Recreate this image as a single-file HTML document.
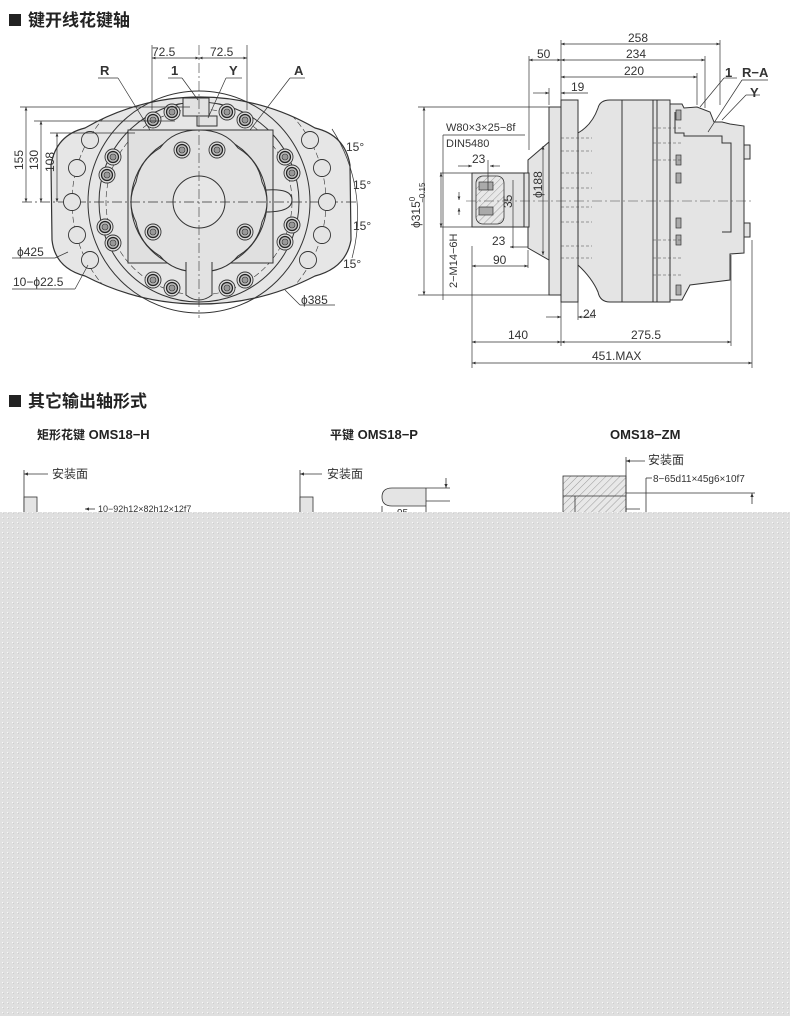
<!DOCTYPE html>
<html><head><meta charset="utf-8"><style>
html,body{margin:0;padding:0;background:#fff;}
body{width:790px;height:1016px;overflow:hidden;position:relative;font-family:"Liberation Sans","Noto Sans CJK SC",sans-serif;}
svg{position:absolute;left:0;top:0;}
</style></head><body>
<svg width="790" height="1016" viewBox="0 0 790 1016" xmlns="http://www.w3.org/2000/svg" font-family="Liberation Sans, Noto Sans CJK SC, sans-serif">
<defs>
<pattern id="dots" width="5" height="5" patternUnits="userSpaceOnUse">
<rect width="5" height="5" fill="#dfdfdf"/><rect x="2" y="2" width="1" height="1" fill="#f8f8f8"/><rect x="3" y="3" width="1" height="1" fill="#cfcfcf"/>
</pattern>
<pattern id="hatch" width="5" height="5" patternUnits="userSpaceOnUse" patternTransform="rotate(45)">
<rect width="5" height="5" fill="#e8e8e8"/><line x1="0" y1="0" x2="0" y2="5" stroke="#666" stroke-width="0.6"/>
</pattern>
<clipPath id="flc"><path d="M85,128 A229,229 0 0 1 315,128 Q345,135 350,165 L351,240 Q346,268 315,276 A250,250 0 0 1 85,276 Q55,268 52,240 L51,165 Q56,135 85,128Z"/></clipPath>
<g id="bolt"><circle r="8" fill="#ddd" stroke="#333" stroke-width="0.9"/><circle r="5.5" fill="#bbb" stroke="#222" stroke-width="1.2"/><circle r="3" fill="#999" stroke="#333" stroke-width="0.6"/></g>
<g id="hole"><circle r="8.5" fill="#e4e4e4" stroke="#333" stroke-width="0.9"/></g>
<marker id="ar" viewBox="0 0 10 10" refX="10" refY="5" markerWidth="7" markerHeight="5" orient="auto-start-reverse"><path d="M0,1 L10,5 L0,9z" fill="#333"/></marker>
</defs>

<rect x="9" y="14" width="12" height="12" fill="#222"/>
<text x="28" y="26" font-size="17" font-weight="bold" fill="#222">键开线花键轴</text>
<rect x="9" y="395" width="12" height="12" fill="#222"/>
<text x="28" y="407" font-size="17" font-weight="bold" fill="#222">其它输出轴形式</text>

<g stroke="#333" stroke-width="1" fill="none">
<path d="M85,128 A229,229 0 0 1 315,128 Q345,135 350,165 L351,240 Q346,268 315,276 A250,250 0 0 1 85,276 Q55,268 52,240 L51,165 Q56,135 85,128Z" fill="#e6e6e6" stroke-width="1.2"/>
<circle cx="199" cy="202" r="111"/>
<circle cx="199" cy="202" r="100"/>
<circle cx="199" cy="202" r="127" stroke-dasharray="6,3" stroke-width="0.6" clip-path="url(#flc)"/>
<circle cx="199" cy="202" r="93" stroke-dasharray="6,3" stroke-width="0.6"/>
<rect x="128" y="130" width="145" height="133" fill="#e0e0e0"/>
<circle cx="199" cy="202" r="68" fill="#e6e6e6"/>
<path d="M199,130 Q225,130 238,148 Q258,160 262,182 Q272,202 262,222 Q258,244 238,256 Q225,272 199,272 Q173,272 160,256 Q140,244 136,222 Q126,202 136,182 Q140,160 160,148 Q173,130 199,130Z" fill="#e2e2e2"/>
<circle cx="199" cy="202" r="26" fill="#e6e6e6"/>
<path d="M186,262 L186,295 Q199,305 212,295 L212,262" fill="#e2e2e2"/>
<path d="M266,190 Q292,188 292,200 Q292,212 266,212"/>
<rect x="183" y="98" width="26" height="18" fill="#e2e2e2"/>
<rect x="197" y="116" width="20" height="10" fill="#e2e2e2"/>
<line x1="199" y1="45" x2="199" y2="318" stroke-dasharray="10,3,2,3" stroke-width="0.6"/>
<line x1="22" y1="202" x2="358" y2="202" stroke-dasharray="10,3,2,3" stroke-width="0.7"/>
</g>
<g>
<use href="#hole" x="90" y="140"/><use href="#hole" x="77" y="168"/><use href="#hole" x="72" y="202"/><use href="#hole" x="77" y="235"/><use href="#hole" x="90" y="260"/>
<use href="#hole" x="310" y="140"/><use href="#hole" x="322" y="168"/><use href="#hole" x="327" y="202"/><use href="#hole" x="322" y="235"/><use href="#hole" x="308" y="260"/>
<use href="#bolt" x="153" y="120"/><use href="#bolt" x="172" y="112"/><use href="#bolt" x="227" y="112"/><use href="#bolt" x="245" y="120"/>
<use href="#bolt" x="113" y="157"/><use href="#bolt" x="107" y="175"/><use href="#bolt" x="285" y="157"/><use href="#bolt" x="292" y="173"/>
<use href="#bolt" x="105" y="227"/><use href="#bolt" x="113" y="243"/><use href="#bolt" x="292" y="225"/><use href="#bolt" x="285" y="242"/>
<use href="#bolt" x="153" y="280"/><use href="#bolt" x="172" y="288"/><use href="#bolt" x="227" y="288"/><use href="#bolt" x="245" y="280"/>
<use href="#bolt" x="182" y="150"/><use href="#bolt" x="217" y="150"/><use href="#bolt" x="153" y="232"/><use href="#bolt" x="245" y="232"/>
</g>
<g stroke="#333" stroke-width="0.7" fill="none">
<line x1="152" y1="45" x2="152" y2="110"/><line x1="247" y1="45" x2="247" y2="110"/>
<line x1="152" y1="58" x2="199" y2="58" marker-start="url(#ar)" marker-end="url(#ar)"/>
<line x1="199" y1="58" x2="247" y2="58" marker-start="url(#ar)" marker-end="url(#ar)"/>
<line x1="98" y1="78" x2="118" y2="78"/><line x1="118" y1="78" x2="150" y2="130"/>
<line x1="168" y1="78" x2="182" y2="78"/><line x1="182" y1="78" x2="198" y2="100"/>
<line x1="226" y1="78" x2="242" y2="78"/><line x1="226" y1="78" x2="208" y2="118"/>
<line x1="290" y1="78" x2="305" y2="78"/><line x1="290" y1="78" x2="250" y2="130"/>
<line x1="20" y1="107" x2="190" y2="107"/><line x1="34" y1="121" x2="175" y2="121"/><line x1="50" y1="133" x2="135" y2="133"/>
<line x1="26" y1="107" x2="26" y2="202" marker-start="url(#ar)" marker-end="url(#ar)"/>
<line x1="41" y1="121" x2="41" y2="202" marker-start="url(#ar)" marker-end="url(#ar)"/>
<line x1="57" y1="133" x2="57" y2="202" marker-start="url(#ar)" marker-end="url(#ar)"/>
<path d="M332,129 A160,160 0 0 1 352,258" />
<line x1="12" y1="258" x2="55" y2="258"/><line x1="55" y1="258" x2="68" y2="252"/>
<line x1="12" y1="289" x2="75" y2="289"/><line x1="75" y1="289" x2="88" y2="265"/>
<line x1="285" y1="290" x2="300" y2="305"/><line x1="300" y1="305" x2="335" y2="305"/>
</g>
<g font-size="12" fill="#333">
<text x="152" y="56">72.5</text><text x="210" y="56">72.5</text>
<text x="100" y="75" font-weight="bold" font-size="13">R</text><text x="171" y="75" font-weight="bold" font-size="13">1</text>
<text x="229" y="75" font-weight="bold" font-size="13">Y</text><text x="294" y="75" font-weight="bold" font-size="13">A</text>
<text transform="translate(23,170) rotate(-90)">155</text>
<text transform="translate(38,170) rotate(-90)">130</text>
<text transform="translate(54,172) rotate(-90)">108</text>
<text x="346" y="151">15°</text><text x="353" y="189">15°</text><text x="353" y="230">15°</text><text x="343" y="268">15°</text>
<text x="17" y="256">ϕ425</text><text x="13" y="286">10−ϕ22.5</text><text x="301" y="304">ϕ385</text>
</g>

<g stroke="#333" stroke-width="1" fill="#e4e4e4">
<rect x="472" y="173" width="56" height="54"/>
<path d="M528,160 L549,142 L549,260 L528,248Z"/>
<rect x="524" y="173" width="5" height="54"/>
<rect x="549" y="107" width="12" height="188"/>
<rect x="561" y="100" width="17" height="202"/>
<path d="M578,133 Q592,125 598,108 Q600,100 610,100 L653,100 L653,302 L610,302 Q600,302 598,292 Q592,278 578,265Z"/>
<line x1="622" y1="100" x2="622" y2="302"/>
<rect x="653" y="100" width="17" height="202"/>
<line x1="657" y1="100" x2="657" y2="302"/>
<path d="M670,104 L682,104 L684,108 L697,107 L710,112 L714,122 L722,122 L730,124 L744,126 L744,253 L730,254 L730,280 L690,285 L682,300 L670,300Z"/>
<path d="M675,112 L675,133 L684,133 L684,136 L722,136 L722,143 L731,143 L731,232 L722,232"/>
<rect x="744" y="145" width="6" height="14"/><rect x="744" y="223" width="6" height="14"/>
</g>
<rect x="476" y="176" width="28" height="48" rx="7" fill="url(#hatch)" stroke="#333" stroke-width="0.8"/>
<g stroke="#333" stroke-width="0.7" fill="#aaa">
<rect x="479" y="182" width="14" height="8"/><rect x="479" y="207" width="14" height="8"/>
<rect x="676" y="110" width="5" height="10"/><rect x="676" y="155" width="5" height="10"/><rect x="676" y="173" width="5" height="10"/><rect x="676" y="218" width="5" height="10"/><rect x="676" y="235" width="5" height="10"/><rect x="676" y="285" width="5" height="10"/>
</g>
<g stroke="#444" stroke-width="0.6" fill="none" stroke-dasharray="3,2">
<line x1="561" y1="138" x2="592" y2="138"/><line x1="561" y1="151" x2="592" y2="151"/>
<line x1="561" y1="173" x2="592" y2="173"/><line x1="561" y1="188" x2="592" y2="188"/>
<line x1="561" y1="207" x2="592" y2="207"/><line x1="561" y1="222" x2="592" y2="222"/>
<line x1="561" y1="246" x2="592" y2="246"/><line x1="561" y1="258" x2="592" y2="258"/>
<line x1="653" y1="128" x2="682" y2="128"/><line x1="653" y1="143" x2="682" y2="143"/>
<line x1="653" y1="160" x2="682" y2="160"/><line x1="653" y1="240" x2="682" y2="240"/>
<line x1="653" y1="258" x2="682" y2="258"/><line x1="653" y1="275" x2="682" y2="275"/>
</g>
<line x1="466" y1="201" x2="752" y2="201" stroke="#444" stroke-width="0.6" stroke-dasharray="10,3,2,3"/>
<g stroke="#333" stroke-width="0.7" fill="none">
<line x1="561" y1="40" x2="561" y2="100"/><line x1="720" y1="40" x2="720" y2="105"/><line x1="705" y1="56" x2="705" y2="108"/><line x1="697" y1="73" x2="697" y2="105"/><line x1="529" y1="56" x2="529" y2="150"/><line x1="549" y1="88" x2="549" y2="105"/>
<line x1="561" y1="44" x2="720" y2="44" marker-start="url(#ar)" marker-end="url(#ar)"/>
<line x1="561" y1="60" x2="705" y2="60" marker-start="url(#ar)" marker-end="url(#ar)"/>
<line x1="561" y1="77" x2="697" y2="77" marker-start="url(#ar)" marker-end="url(#ar)"/>
<line x1="529" y1="60" x2="561" y2="60" marker-start="url(#ar)" marker-end="url(#ar)"/>
<line x1="533" y1="93" x2="549" y2="93" marker-end="url(#ar)"/><line x1="561" y1="93" x2="588" y2="93" marker-start="url(#ar)"/>
<line x1="418" y1="107" x2="549" y2="107"/><line x1="418" y1="295" x2="549" y2="295"/>
<line x1="424" y1="107" x2="424" y2="295" marker-start="url(#ar)" marker-end="url(#ar)"/>
<line x1="443" y1="135" x2="525" y2="135"/><line x1="443" y1="135" x2="443" y2="300"/>
<line x1="440" y1="173" x2="472" y2="173"/><line x1="440" y1="227" x2="472" y2="227"/>
<line x1="441" y1="173" x2="441" y2="227" marker-start="url(#ar)" marker-end="url(#ar)"/>
<line x1="459" y1="192" x2="459" y2="200" marker-end="url(#ar)"/><line x1="459" y1="215" x2="459" y2="208" marker-end="url(#ar)"/>
<line x1="458" y1="166" x2="472" y2="166" marker-end="url(#ar)"/><line x1="500" y1="166" x2="490" y2="166" marker-end="url(#ar)"/>
<line x1="488" y1="160" x2="488" y2="190"/>
<line x1="513" y1="180" x2="513" y2="248"/>
<line x1="510" y1="247" x2="528" y2="247" marker-start="url(#ar)"/>
<line x1="543" y1="146" x2="543" y2="255" marker-start="url(#ar)" marker-end="url(#ar)"/>
<line x1="472" y1="246" x2="472" y2="368"/><line x1="528" y1="250" x2="528" y2="268"/>
<line x1="472" y1="266" x2="528" y2="266" marker-start="url(#ar)" marker-end="url(#ar)"/>
<line x1="561" y1="302" x2="561" y2="346"/><line x1="578" y1="302" x2="578" y2="320"/>
<line x1="546" y1="317" x2="561" y2="317" marker-end="url(#ar)"/><line x1="593" y1="317" x2="578" y2="317" marker-end="url(#ar)"/>
<line x1="731" y1="255" x2="731" y2="346"/><line x1="752" y1="240" x2="752" y2="368"/>
<line x1="472" y1="342" x2="561" y2="342" marker-start="url(#ar)" marker-end="url(#ar)"/>
<line x1="561" y1="342" x2="731" y2="342" marker-start="url(#ar)" marker-end="url(#ar)"/>
<line x1="472" y1="363" x2="752" y2="363" marker-start="url(#ar)" marker-end="url(#ar)"/>
<line x1="724" y1="78" x2="737" y2="78"/><line x1="724" y1="78" x2="700" y2="107"/>
<line x1="742" y1="80" x2="768" y2="80"/><line x1="742" y1="80" x2="708" y2="132"/>
<line x1="746" y1="95" x2="760" y2="95"/><line x1="746" y1="95" x2="722" y2="120"/>
</g>
<g font-size="12" fill="#333">
<text x="628" y="42">258</text><text x="626" y="58">234</text><text x="624" y="75">220</text>
<text x="537" y="58">50</text><text x="571" y="91">19</text>
<text x="725" y="77" font-weight="bold" font-size="13">1</text><text x="742" y="77" font-weight="bold" font-size="13">R−A</text><text x="750" y="97" font-weight="bold" font-size="13">Y</text>
<text x="446" y="131" font-size="11">W80×3×25−8f</text><text x="446" y="147" font-size="11">DIN5480</text>
<text x="472" y="163">23</text><text x="492" y="245">23</text><text x="493" y="264">90</text>
<text transform="translate(420,228) rotate(-90)">ϕ315<tspan font-size="8" dy="-5">0</tspan><tspan font-size="8" dx="-6" dy="10">−0.15</tspan></text>
<text transform="translate(542,198) rotate(-90)">ϕ188</text>
<text transform="translate(512,208) rotate(-90)">35</text>
<text transform="translate(457,288) rotate(-90)" font-size="11">2−M14−6H</text>
<text x="583" y="318">24</text><text x="508" y="339">140</text><text x="631" y="339">275.5</text><text x="592" y="360">451.MAX</text>
</g>

<g font-size="13" font-weight="bold" fill="#222">
<text x="37" y="439"><tspan font-size="12">矩形花键</tspan> OMS18−H</text>
<text x="330" y="439"><tspan font-size="12">平键</tspan> OMS18−P</text>
<text x="610" y="439">OMS18−ZM</text>
</g>
<g stroke="#333" stroke-width="0.8" fill="none">
<line x1="24" y1="470" x2="24" y2="512"/><line x1="24" y1="474" x2="48" y2="474" marker-start="url(#ar)"/>
<rect x="24" y="497" width="13" height="16" fill="#e4e4e4"/>
<line x1="85" y1="509" x2="95" y2="509" marker-start="url(#ar)"/>
<line x1="300" y1="470" x2="300" y2="512"/><line x1="300" y1="474" x2="322" y2="474" marker-start="url(#ar)"/>
<rect x="300" y="497" width="13" height="16" fill="#e4e4e4"/>
<path d="M426,488 L392,488 Q382,488 382,497 Q382,506 392,506 L426,506" fill="#e4e4e4"/>
<path d="M382,506 L382,513 M426,488 L426,513"/>
<line x1="426" y1="488" x2="450" y2="488"/><line x1="426" y1="501" x2="450" y2="501"/>
<line x1="446" y1="478" x2="446" y2="488" marker-end="url(#ar)"/>
<rect x="563" y="476" width="63" height="37" fill="url(#hatch)"/>
<path d="M563,496 L626,496 M575,496 L575,513 M626,457 L626,513 M626,509 L640,509"/>
<line x1="626" y1="461" x2="645" y2="461" marker-start="url(#ar)"/>
<line x1="646" y1="478" x2="646" y2="512"/><line x1="646" y1="478" x2="652" y2="478"/>
<line x1="626" y1="493" x2="755" y2="493"/>
<line x1="752" y1="504" x2="752" y2="493" marker-end="url(#ar)"/>
</g>
<g font-size="12" fill="#333">
<text x="52" y="478">安装面</text><text x="327" y="478">安装面</text><text x="648" y="464">安装面</text>
<text x="98" y="512" font-size="9">10−92h12×82h12×12f7</text>
<text x="653" y="482" font-size="10">8−65d11×45g6×10f7</text>
<text x="397" y="516" font-size="10">95</text>
</g>

<rect x="0" y="512" width="790" height="504" fill="url(#dots)"/>
</svg>
</body></html>
